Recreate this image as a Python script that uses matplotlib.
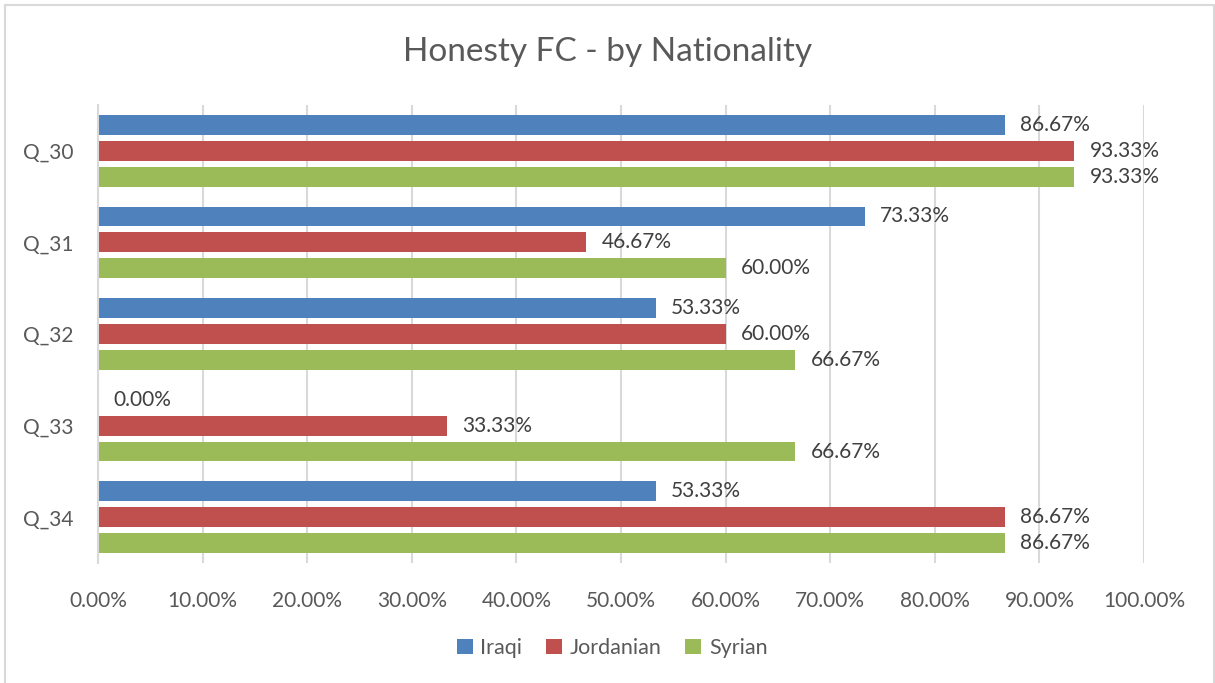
import numpy as np
import matplotlib.pyplot as plt
from matplotlib.patches import Rectangle

questions = ["Q_30", "Q_31", "Q_32", "Q_33", "Q_34"]
iraqi = [86.67, 73.33, 53.33, 0.00, 53.33]
jordanian = [93.33, 46.67, 60.00, 33.33, 86.67]
syrian = [93.33, 60.00, 66.67, 66.67, 86.67]
series_names = ["Iraqi", "Jordanian", "Syrian"]
x_ticks = [0, 10, 20, 30, 40, 50, 60, 70, 80, 90, 100]

TEXT = "#595959"
GRID = "#D9D9D9"
SERIES_COLORS = ["#4F81BD", "#C0504D", "#9BBB59"]

plt.rcParams["font.family"] = ["Lato", "DejaVu Sans"]

fig = plt.figure(figsize=(12.15, 6.83), dpi=100)
ax = fig.add_axes([98 / 1215, 1 - 563 / 683, 1046 / 1215, 458 / 683])

y = np.arange(len(questions))
bar_h = 0.217
pitch = 0.283
for i, (name, vals) in enumerate(zip(series_names, [iraqi, jordanian, syrian])):
    bars = ax.barh(y + (i - 1) * pitch, vals, height=bar_h,
                   color=SERIES_COLORS[i], label=name)
    ax.bar_label(bars, labels=[f"{v:.2f}%" for v in vals], padding=11,
                 fontsize=15, color="#404040")

ax.set_xlim(0, 100)
ax.set_ylim(len(questions) - 0.5, -0.5)
ax.set_xticks(x_ticks)
ax.set_xticklabels([f"{t:.2f}%" for t in x_ticks])
ax.set_yticks(y)
ax.set_yticklabels(questions)
ax.tick_params(axis="x", length=0, pad=20, labelsize=15, labelcolor=TEXT)
ax.tick_params(axis="y", length=0, pad=18, labelsize=15, labelcolor=TEXT)
ax.grid(axis="x", color=GRID, linewidth=1.5)
ax.set_axisbelow(True)
for side in ("top", "right", "bottom"):
    ax.spines[side].set_visible(False)
ax.spines["left"].set_color(GRID)
ax.spines["left"].set_linewidth(1.5)

fig.text(608 / 1215, 1 - 52 / 683, "Honesty FC - by Nationality",
         ha="center", va="center", fontsize=24, color=TEXT)

fig.legend(loc="center", bbox_to_anchor=(612 / 1215, 1 - 648 / 683),
           ncol=3, frameon=False, fontsize=15.5, labelcolor=TEXT,
           handlelength=0.75, handleheight=0.75, handletextpad=0.35,
           columnspacing=1.1)

fig.patches.append(Rectangle((5 / 1215, -0.01), 1209 / 1215, 1 - 5 / 683 + 0.01,
                             transform=fig.transFigure, fill=False,
                             edgecolor="#D9D9D9", linewidth=1.5))

fig.savefig("out.png", dpi=100)
